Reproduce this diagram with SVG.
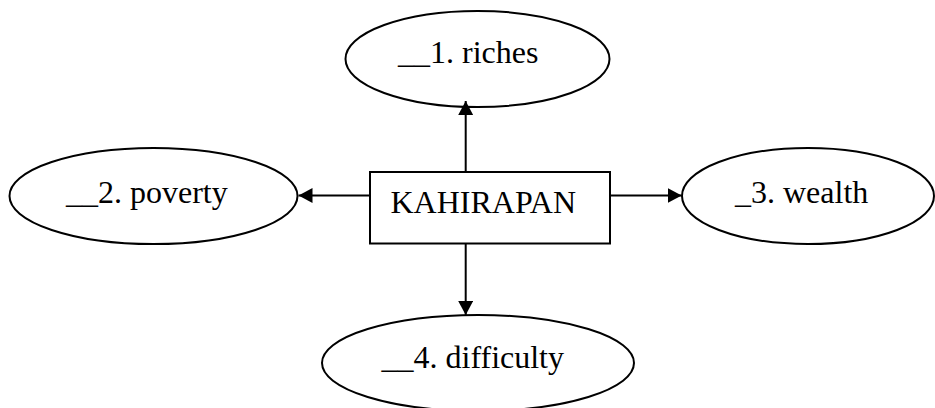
<svg xmlns="http://www.w3.org/2000/svg" width="935" height="408" viewBox="0 0 935 408">
<style>
.shape{fill:#fff;stroke:#000;stroke-width:2}
.lbl{font-family:"Liberation Serif","Times New Roman",serif;font-size:32px;fill:#000}
.conn{stroke:#000;stroke-width:2;fill:none}
</style>
<defs>
<marker id="arr" markerWidth="14" markerHeight="15" refX="14" refY="7.5" orient="auto" markerUnits="userSpaceOnUse">
<path d="M0,0 L14,7.5 L0,15 Z" fill="#000"/>
</marker>
</defs>
<rect width="935" height="408" fill="#fff"/>
<g id="node-riches">
<ellipse class="shape" cx="477.5" cy="59" rx="132" ry="48"/>
<text class="lbl" x="398" y="63">__1. riches</text>
</g>
<g id="node-poverty">
<ellipse class="shape" cx="153.5" cy="196" rx="144" ry="48"/>
<text class="lbl" x="66" y="203">__2. poverty</text>
</g>
<g id="node-wealth">
<ellipse class="shape" cx="808" cy="196" rx="126" ry="48"/>
<text class="lbl" x="735" y="203">_3. wealth</text>
</g>
<g id="node-difficulty">
<ellipse class="shape" cx="478" cy="363" rx="156" ry="48"/>
<text class="lbl" x="381.5" y="368">__4. difficulty</text>
</g>
<g id="node-kahirapan">
<rect class="shape" x="370" y="172" width="240" height="71.5"/>
<text class="lbl" x="390.5" y="213">KAHIRAPAN</text>
</g>
<g id="connectors">
<line class="conn" x1="465.7" y1="172" x2="465.7" y2="101" marker-end="url(#arr)"/>
<line class="conn" x1="370" y1="195.5" x2="298.5" y2="195.5" marker-end="url(#arr)"/>
<line class="conn" x1="610" y1="195.5" x2="681.7" y2="195.5" marker-end="url(#arr)"/>
<line class="conn" x1="465.7" y1="243.5" x2="465.7" y2="315" marker-end="url(#arr)"/>
</g>
</svg>
